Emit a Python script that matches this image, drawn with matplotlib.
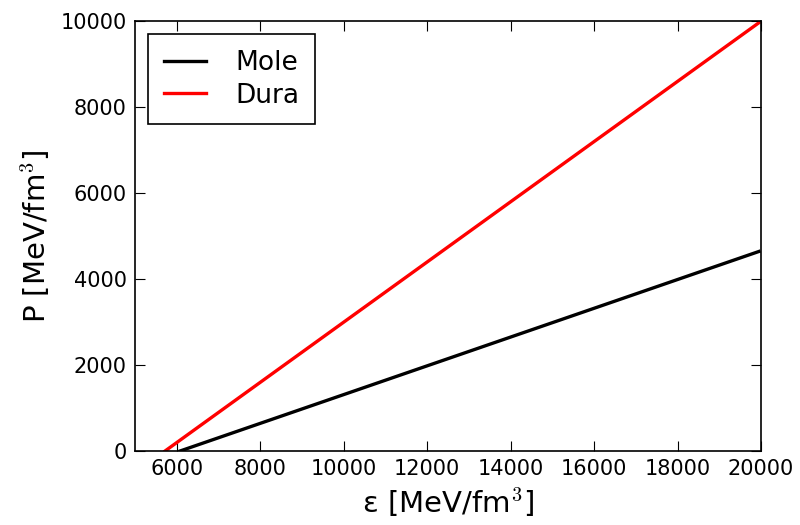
import matplotlib
matplotlib.use("Agg")
import matplotlib.pyplot as plt

# data
mole_eps = [6080, 19950]
mole_p = [0, 4640]
dura_eps = [5720, 19950]
dura_p = [0, 9960]
series_names = ["Mole", "Dura"]
series_colors = ["black", "red"]

plt.rcParams['font.family'] = ['DejaVu Sans']
plt.rcParams['mathtext.fontset'] = 'cm'

fig = plt.figure(figsize=(8, 5.25), dpi=100)
ax = fig.add_axes([135/800, 1-451/525, (761-135)/800, (451-21)/525])

ax.plot(mole_eps, mole_p, color=series_colors[0], lw=2.4, label=series_names[0])
ax.plot(dura_eps, dura_p, color=series_colors[1], lw=2.4, label=series_names[1])

ax.set_xlim(5000, 20000)
ax.set_ylim(0, 10000)
ax.set_xticks([6000, 8000, 10000, 12000, 14000, 16000, 18000, 20000])
ax.set_yticks([0, 2000, 4000, 6000, 8000, 10000])
ax.tick_params(direction='in', top=True, right=True, labelsize=15, length=7, width=0.8, pad=6)
for s in ax.spines.values():
    s.set_linewidth(1.2)

ax.set_xlabel(r"ε [MeV/fm$^3$]", fontsize=21, labelpad=5)
ax.set_ylabel(r"P [MeV/fm$^3$]", fontsize=21, labelpad=6)

leg = ax.legend(loc='upper left', fontsize=19, fancybox=False, framealpha=1,
                edgecolor='black', handlelength=1.6, borderaxespad=0.5,
                handletextpad=1.1, borderpad=0.6, labelspacing=0.25)
leg.get_frame().set_linewidth(1.2)

fig.savefig("out.png", dpi=100)
